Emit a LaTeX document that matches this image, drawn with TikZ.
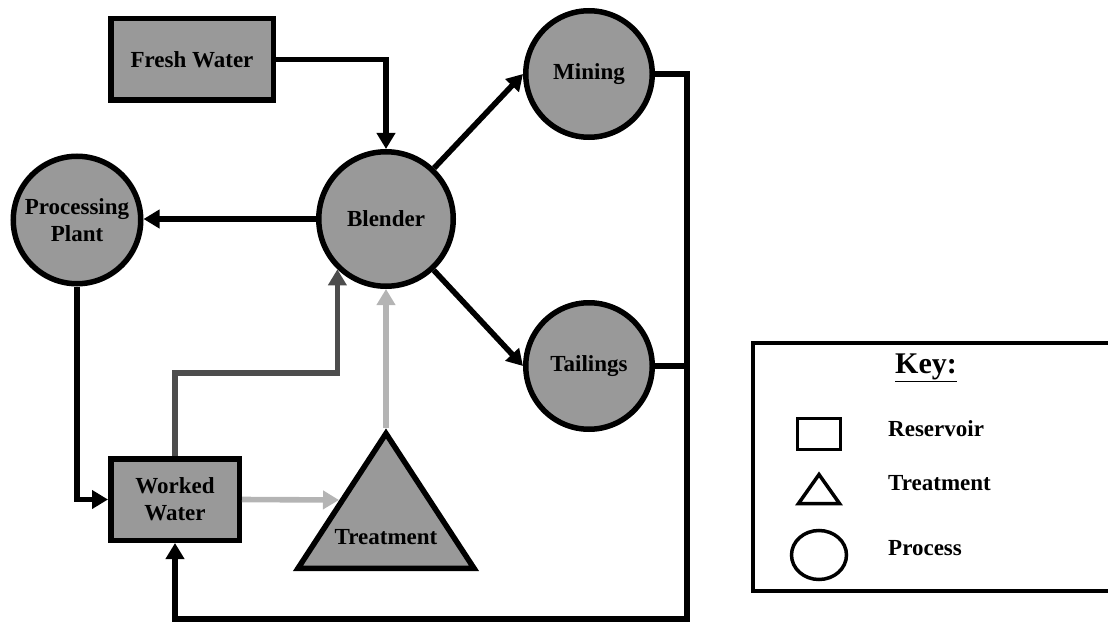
\documentclass[tikz,border=0pt]{standalone}
\usepackage{fontspec}
\setmainfont{Liberation Serif}
\usetikzlibrary{arrows.meta,calc,shapes.geometric}
\definecolor{fillgray}{HTML}{999999}
\definecolor{darkflow}{HTML}{4D4D4D}
\definecolor{lightflow}{HTML}{B4B4B4}
\begin{document}
\begin{tikzpicture}[x=1pt,y=-1pt,
  lbl/.style={font=\fontsize{23}{27}\selectfont\bfseries, align=center, text=black},
  tank/.style={lbl, rectangle, draw=black, fill=fillgray, line width=5.5pt, inner sep=0pt},
  proc/.style={lbl, circle, draw=black, fill=fillgray, line width=5.5pt, inner sep=0pt},
  tri/.style={draw=black, fill=fillgray, line width=5.5pt, line join=miter},
  pipe/.style={draw, line width=5.6pt},
  flow/.style={draw, line width=5.6pt, -{Triangle[length=16pt,width=18pt]}},
  keyshape/.style={draw=black, line width=3.5pt, fill=white},
  keytext/.style={font=\fontsize{23}{27}\selectfont\bfseries, anchor=west, inner sep=0pt}
]
\useasboundingbox (0,0) rectangle (1108,623);

% Process nodes and reservoirs
\node[tank, minimum width=162.5pt, minimum height=81.5pt] (fw) at (192,59.5) {Fresh Water};
\node[proc, minimum size=134.5pt] (blender) at (386,219) {Blender};
\node[proc, minimum size=127.5pt] (pp) at (77,220) {Processing\\Plant};
\node[proc, minimum size=126.5pt] (mining) at (589,74) {Mining};
\node[proc, minimum size=126.5pt] (tail) at (589,366) {Tailings};
\node[tank, minimum width=128.5pt, minimum height=81.5pt] (ww) at (175,499.5) {Worked\\Water};

% Treatment triangle corners and connection points
\coordinate (tA) at (386,433.5);
\coordinate (tL) at (298,568.3);
\coordinate (tR) at (474,568.3);
\coordinate (tin) at (339,500);
\coordinate (ttop) at (386,428);
\coordinate (ret) at (687,619);

% Flows
\draw[flow, color=black] (fw.east) -| (blender.north);
\draw[flow, color=black] (blender.west) -- (blender.west -| pp.east);
\draw[flow, color=black] (blender) -- (mining.west);
\draw[flow, color=black] (blender) -- (tail.west);
\draw[flow, color=black] (pp.south) |- (ww.west);
\draw[pipe, color=black] (tail.east) -- (tail.east -| ret);
\draw[flow, color=black] (mining.east) -| (ret) -| (ww.south);
\draw[flow, color=darkflow] (ww.north) -- ++(0,-83) -| (blender.226.7);
\draw[flow, color=lightflow] (ww.east) -- (tin);
\draw[flow, color=lightflow] (ttop) -- (blender.south);

\draw[tri] (tA) -- (tL) -- (tR) -- cycle;
\node[lbl] (treat) at (386,537) {Treatment};

% Key
\draw[line width=4.5pt, line join=miter] (1112,343) -- (753,343) -- (753,591) -- (1112,591);
\node[font=\fontsize{30}{34}\selectfont\bfseries] (keytitle) at (926,368) {\underline{Key:}};
\node[keyshape, rectangle, minimum width=43pt, minimum height=31pt, inner sep=0pt] (kres) at (819,434) {};
\coordinate (kA) at (819,474.5);
\coordinate (kL) at (798.5,503.5);
\coordinate (kR) at (839.5,503.5);
\draw[keyshape, line join=miter] (kA) -- (kL) -- (kR) -- cycle;
\node[keyshape, ellipse, minimum width=55pt, minimum height=49pt, inner sep=0pt] (kproc) at (819,555) {};
\node[keytext] (lres) at (888,429) {Reservoir};
\node[keytext] (ltreat) at (888,483) {Treatment};
\node[keytext] (lproc) at (888,548) {Process};
\end{tikzpicture}
\end{document}
